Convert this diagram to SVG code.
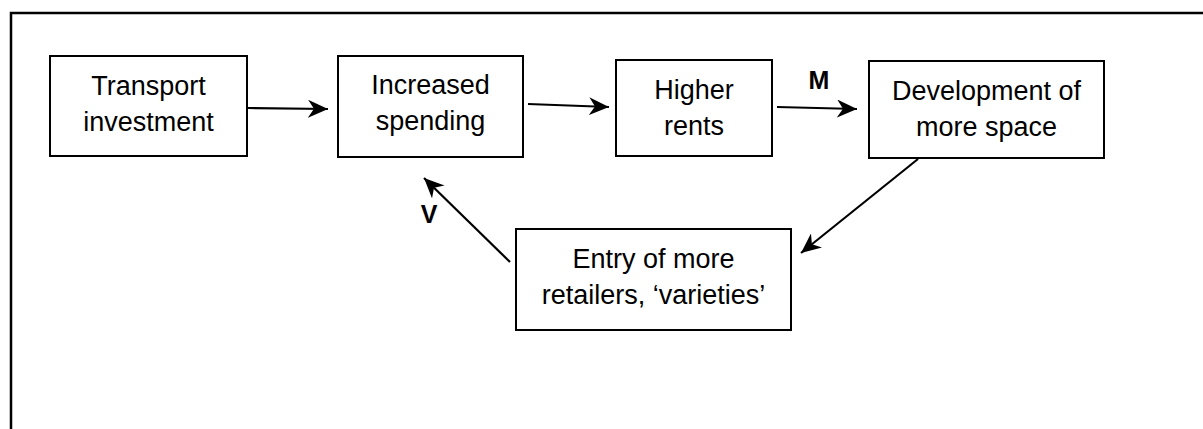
<svg xmlns="http://www.w3.org/2000/svg" width="1203" height="429" viewBox="0 0 1203 429">
<style>
.box{fill:#fff;stroke:#000;stroke-width:2}
.t{font-family:"Liberation Sans",Arial,sans-serif;font-size:27px;fill:#000;text-anchor:middle}
.lbl{font-family:"Liberation Sans",Arial,sans-serif;font-size:25px;font-weight:bold;fill:#000;text-anchor:middle}
.c{stroke:#000;stroke-width:2.2;fill:none;marker-end:url(#ah)}
</style>
<defs>
<marker id="ah" markerUnits="userSpaceOnUse" markerWidth="22" markerHeight="18" viewBox="0 0 22 18" refX="20" refY="9" orient="auto">
<path d="M0,0 L20,9 L0,18 L6,9 Z" fill="#000"/>
</marker>
</defs>
<rect width="1203" height="429" fill="#fff"/>
<path d="M11,429 V13 H1203" fill="none" stroke="#000" stroke-width="2.5"/>
<g id="connectors">
<line class="c" x1="248" y1="108" x2="328" y2="109"/>
<line class="c" x1="528" y1="104" x2="609" y2="107"/>
<line class="c" x1="777" y1="107" x2="857" y2="109"/>
<line class="c" x1="918" y1="159" x2="801" y2="253"/>
<line class="c" x1="510" y1="262" x2="424" y2="178"/>
<text class="lbl" x="819" y="89">M</text>
<text class="lbl" x="429" y="223">V</text>
</g>
<g id="transport">
<rect class="box" x="50" y="56" width="197" height="100"/>
<text class="t" x="148.5" y="95">Transport</text>
<text class="t" x="148.5" y="131">investment</text>
</g>
<g id="spending">
<rect class="box" x="338" y="56" width="185" height="101"/>
<text class="t" x="430.5" y="94">Increased</text>
<text class="t" x="430.5" y="130">spending</text>
</g>
<g id="rents">
<rect class="box" x="616" y="60" width="156" height="96"/>
<text class="t" x="694" y="99">Higher</text>
<text class="t" x="694" y="135">rents</text>
</g>
<g id="development">
<rect class="box" x="869" y="61" width="235" height="97"/>
<text class="t" x="986.5" y="100">Development of</text>
<text class="t" x="986.5" y="136">more space</text>
</g>
<g id="entry">
<rect class="box" x="516" y="229" width="275" height="101"/>
<text class="t" x="653.5" y="268">Entry of more</text>
<text class="t" x="653.5" y="304">retailers, ‘varieties’</text>
</g>
</svg>
